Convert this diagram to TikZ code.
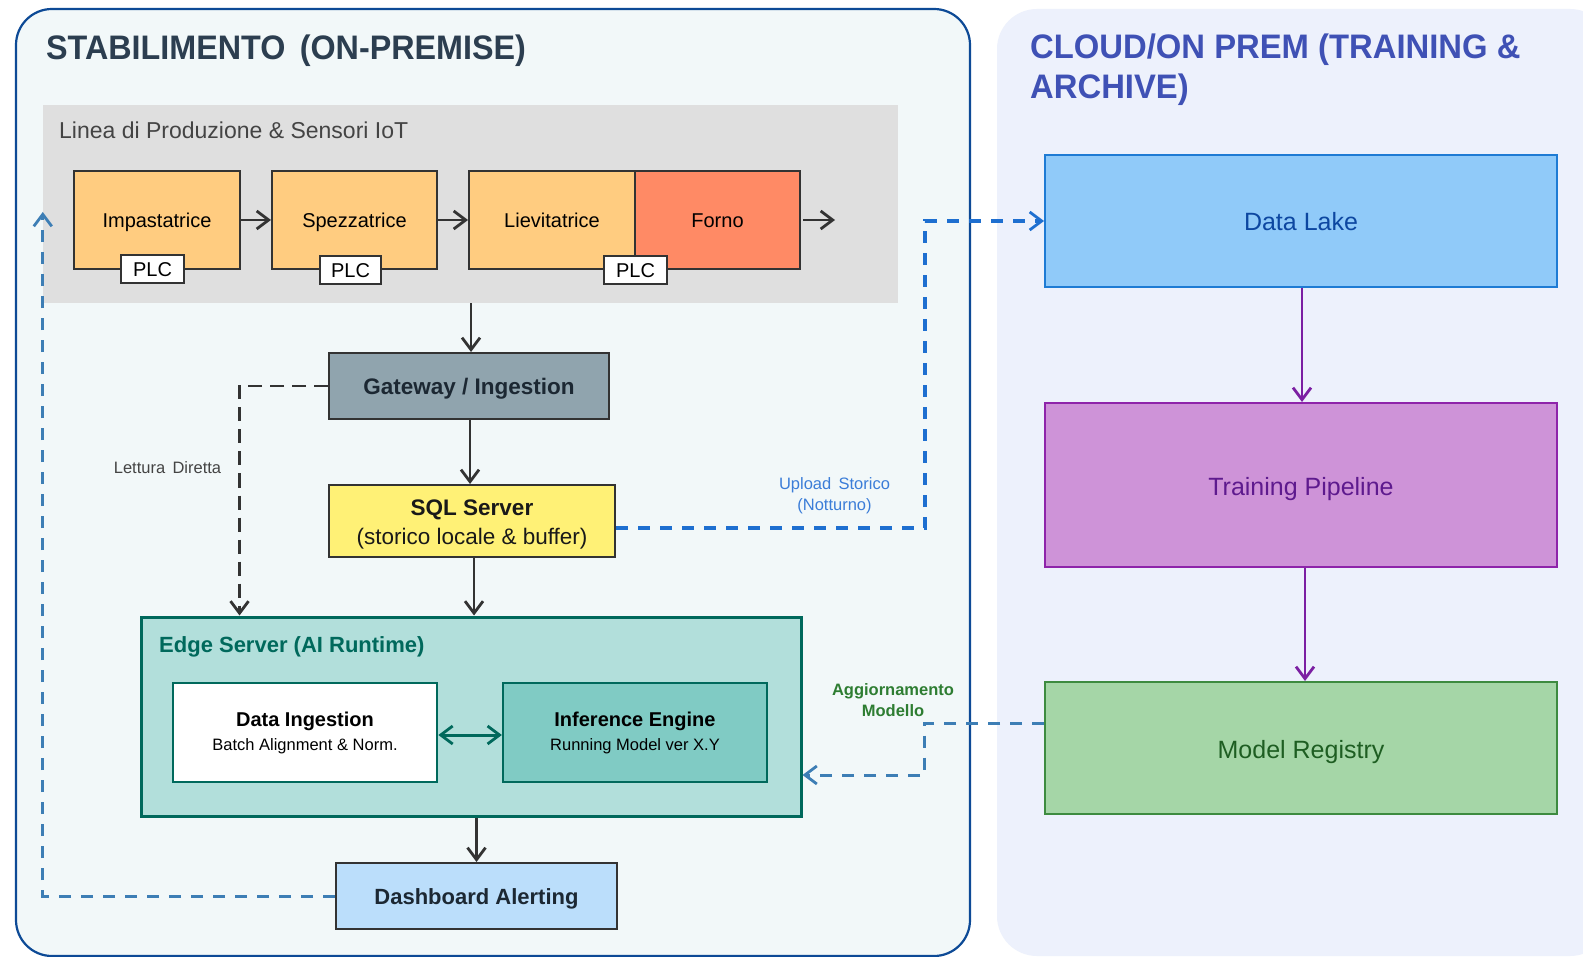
\documentclass[tikz,border=0pt]{standalone}
\usepackage{fontspec}
\usepackage{graphicx}
\setmainfont{Liberation Sans}
\usetikzlibrary{arrows.meta,calc}
\definecolor{lpfill}{HTML}{F2F8F9}
\definecolor{lpdraw}{HTML}{0D4A96}
\definecolor{rpfill}{HTML}{EDF1FC}
\definecolor{greybg}{HTML}{DFDFDF}
\definecolor{machine}{HTML}{FFCC80}
\definecolor{forno}{HTML}{FF8A65}
\definecolor{dk}{HTML}{333333}
\definecolor{gwfill}{HTML}{90A4AE}
\definecolor{sqlfill}{HTML}{FFF176}
\definecolor{edgefill}{HTML}{B2DFDB}
\definecolor{teal}{HTML}{00695C}
\definecolor{inffill}{HTML}{80CBC4}
\definecolor{dashfill}{HTML}{BBDEFB}
\definecolor{navy}{HTML}{1C2833}
\definecolor{titlegray}{HTML}{2C3E50}
\definecolor{indigo}{HTML}{3F51B5}
\definecolor{lakefill}{HTML}{90CAF9}
\definecolor{lakedraw}{HTML}{1E7BD4}
\definecolor{laketext}{HTML}{0D47A1}
\definecolor{trfill}{HTML}{CE93D8}
\definecolor{trdraw}{HTML}{8E24AA}
\definecolor{trtext}{HTML}{5E1A8E}
\definecolor{purplearr}{HTML}{7B1FA2}
\definecolor{regfill}{HTML}{A5D6A7}
\definecolor{regdraw}{HTML}{3D8B40}
\definecolor{regtext}{HTML}{1E5E22}
\definecolor{upblue}{HTML}{1E6FD0}
\definecolor{uptext}{HTML}{3B7DD8}
\definecolor{steel}{HTML}{3D7EB5}
\definecolor{aggreen}{HTML}{2E7D32}
\definecolor{lettext}{HTML}{444444}
\begin{document}
\begin{tikzpicture}[x=1pt,y=-1pt,
  box/.style={draw=dk, line width=2pt, inner sep=0pt, align=center, text=black},
  mach/.style={box, text height=14.6pt, text depth=0pt, fill=machine, font=\fontsize{20}{24}\selectfont},
  plc/.style={box, text height=15.4pt, text depth=0pt, fill=white, minimum width=63pt, minimum height=28pt, font=\fontsize{20}{24}\selectfont},
  cloudbox/.style={draw, text height=20pt, text depth=0pt, line width=2pt, inner sep=0pt, minimum width=512pt, font=\fontsize{25}{30}\selectfont},
  tip/.style={-{Straight Barb[length=12pt,width=18pt,line width=2.8pt]}},
  arr/.style={draw=dk, line width=2.9pt, tip},
  lett/.style={draw=dk, line width=2.8pt, dash pattern=on 14pt off 8pt, tip},
  upl/.style={draw=upblue, line width=3.2pt, dash pattern=on 12pt off 10pt, tip},
  fb/.style={draw=steel, line width=3pt, dash pattern=on 12pt off 10pt, tip},
  parr/.style={draw=purplearr, line width=2.9pt, tip},
  tarr/.style={draw=teal, line width=3pt, {Straight Barb[length=12pt,width=18pt,line width=2.8pt]}-{Straight Barb[length=12pt,width=18pt,line width=2.8pt]}},
]
\useasboundingbox (0,0) rectangle (1583,957);
\fill[white] (0,0) rectangle (1583,957);

% panels
\draw[lpdraw, fill=lpfill, line width=2.2pt, rounded corners=36pt] (16,9) rectangle (970,956);
\fill[rpfill, rounded corners=40pt] (997,9) rectangle (1610,956);

% titles
\node[anchor=base west, inner sep=0pt, text=titlegray, font=\fontsize{34}{40}\selectfont\bfseries] (t1) at (46,60) {\scalebox{0.95}[1]{STABILIMENTO\, (ON-PREMISE)}};
\node[anchor=north west, inner sep=0pt, align=left, text=indigo, font=\fontsize{34}{40}\selectfont\bfseries] (t2) at (1030,34) {\scalebox{0.965}[1]{CLOUD/ON PREM (TRAINING \&}\\\scalebox{0.965}[1]{ARCHIVE)}};

% production line
\node[fill=greybg, minimum width=855pt, minimum height=198pt, inner sep=0pt] (grey) at (470.5,204) {};
\node[anchor=base west, inner sep=0pt, text=lettext, font=\fontsize{23}{28}\selectfont] (gl) at (59,139) {Linea di Produzione \& Sensori IoT};

\node[mach, minimum width=166pt, minimum height=98pt] (imp) at (157,220) {Impastatrice};
\node[mach, minimum width=165pt, minimum height=98pt] (spez) at (354.5,220) {Spezzatrice};
\node[mach, minimum width=166pt, minimum height=98pt] (liev) at (552,220) {Lievitatrice};
\node[mach, fill=forno, minimum width=165pt, minimum height=98pt] (forno) at (717.5,220) {Forno};
\node[plc] (plc1) at (152.5,269) {PLC};
\node[plc, minimum width=61pt] (plc2) at (350.5,270) {PLC};
\node[plc] (plc3) at (635.5,270) {PLC};

\draw[arr] (imp.east) -- (spez.west);
\draw[arr] (spez.east) -- (liev.west);
\draw[arr] ([xshift=2pt]forno.east) -- ([xshift=34pt]forno.east);

% gateway / sql
\node[box, text height=17pt, text depth=0pt, fill=gwfill, minimum width=280pt, minimum height=66pt, text=navy, font=\fontsize{22.5}{27}\selectfont\bfseries] (gw) at (469,386) {Gateway / Ingestion};
\node[box, fill=sqlfill, minimum width=286pt, minimum height=72pt, text=black!90, font=\fontsize{22.5}{29}\selectfont] (sql) at (472,521) {\rule{0pt}{1.05em}\textbf{SQL Server}\\(storico locale \& buffer)};

% edge server
\node[draw=teal, fill=edgefill, line width=3pt, minimum width=660pt, minimum height=199pt, inner sep=0pt] (edge) at (471,716.5) {};
\node[anchor=base west, inner sep=0pt, text=teal, font=\fontsize{22}{26}\selectfont\bfseries] (et) at (159,652) {Edge Server (AI Runtime)};
\node[box, draw=teal, fill=white, line width=2.2pt, minimum width=264.5pt, minimum height=99pt, font=\fontsize{16.5}{24}\selectfont] (ding) at (305,732.5) {{\fontsize{20}{24}\selectfont\bfseries Data Ingestion}\\Batch Alignment \& Norm.};
\node[box, draw=teal, fill=inffill, line width=2.2pt, minimum width=264pt, minimum height=99pt, font=\fontsize{16.5}{24}\selectfont] (inf) at (635,732.5) {{\fontsize{20}{24}\selectfont\bfseries Inference Engine}\\Running Model ver X.Y};
\draw[tarr] ([yshift=-2.5pt]ding.east) -- ([yshift=-2.5pt]inf.west);

% dashboard
\node[box, text height=17.4pt, text depth=0pt, fill=dashfill, minimum width=281pt, minimum height=66pt, text=navy, font=\fontsize{22}{26}\selectfont\bfseries] (dash) at (476.5,896) {Dashboard Alerting};

% vertical flow
\draw[arr] ([xshift=2pt]gw.north |- grey.south) -- ([xshift=2pt]gw.north);
\draw[arr] ([xshift=1pt]gw.south) -- ([xshift=1pt]gw.south |- sql.north);
\draw[arr] ([xshift=2pt]sql.south) -- ([xshift=2pt]sql.south |- edge.north);
\draw[arr] (dash.north |- edge.south) -- (dash.north);

% lettura diretta
\draw[lett] (gw.west) -| ([xshift=100pt]edge.north west);
\node[inner sep=0pt, text=lettext, font=\fontsize{16.5}{20}\selectfont] (ll) at (167.5,468) {Lettura\, Diretta};

% cloud boxes
\node[cloudbox, draw=lakedraw, fill=lakefill, text=laketext, minimum height=132pt] (lake) at (1301,221) {Data Lake};
\node[cloudbox, draw=trdraw, fill=trfill, text=trtext, minimum height=164pt] (train) at (1301,485) {Training Pipeline};
\node[cloudbox, draw=regdraw, fill=regfill, text=regtext, minimum height=132pt] (reg) at (1301,748) {Model Registry};
\draw[parr] ([xshift=1pt]lake.south) -- ([xshift=1pt]lake.south |- train.north);
\draw[parr] ([xshift=4pt]train.south) -- ([xshift=4pt]train.south |- reg.north);

% upload
\draw[upl] ([yshift=-7pt]sql.east) -| ([xshift=-119pt]lake.west) -- (lake.west);
\node[inner sep=0pt, align=center, text=uptext, font=\fontsize{16.5}{21}\selectfont] (ul) at (834.5,496) {Upload\, Storico\\(Notturno)};

% model update
\draw[fb] ([yshift=25pt]reg.west) -| ([xshift=122pt,yshift=-58.5pt]edge.east) -- ([yshift=-58.5pt]edge.east);
\node[inner sep=0pt, align=center, text=aggreen, font=\fontsize{16.5}{20.5}\selectfont\bfseries] (al) at (893,700) {Aggiornamento\\Modello};

% feedback from dashboard
\draw[fb] (dash.west) -| ([yshift=-8pt]grey.west);
\end{tikzpicture}
\end{document}
